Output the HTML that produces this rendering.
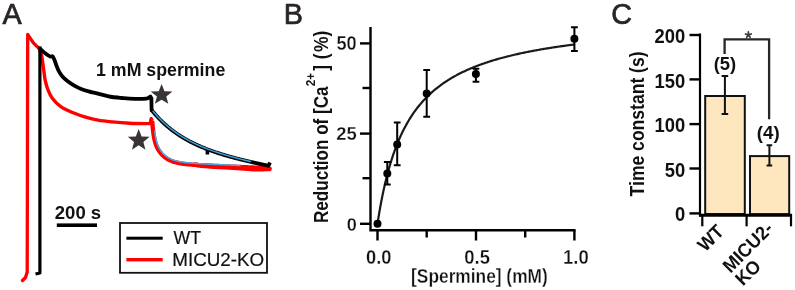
<!DOCTYPE html>
<html><head><meta charset="utf-8"><style>
html,body{margin:0;padding:0;background:#fff;}
svg{display:block;}
text{font-family:"Liberation Sans",sans-serif;}
svg{will-change:transform;}
</style></head><body>
<svg width="795" height="290" viewBox="0 0 795 290">
<rect width="795" height="290" fill="#fff"/>
<text transform="translate(2.58,24.00) scale(0.950,1)" font-size="30.30" fill="#2a2524" stroke="#2a2524" stroke-width="0.70" stroke-linejoin="round">A</text>

<path d="M22.5,280.5 L25.5,277.5 L27.2,272 L27.7,34.5" fill="none" stroke="#ff0000" stroke-width="3.3" stroke-linejoin="round" stroke-linecap="round"/>
<path d="M27.70,34.50 C28.75,36.00 32.08,41.13 34.00,43.50 C35.92,45.87 37.95,46.78 39.20,48.70 C40.45,50.62 40.92,52.70 41.50,55.00 C42.08,57.30 42.28,59.67 42.70,62.50 C43.12,65.33 43.58,69.03 44.00,72.00 C44.42,74.97 44.48,77.18 45.20,80.30 C45.92,83.42 47.08,87.67 48.30,90.70 C49.52,93.73 50.42,95.83 52.50,98.50 C54.58,101.17 57.35,104.32 60.80,106.70 C64.25,109.08 69.07,111.05 73.20,112.80 C77.33,114.55 81.47,115.97 85.60,117.20 C89.73,118.43 93.57,119.42 98.00,120.20 C102.43,120.98 106.95,121.40 112.20,121.90 C117.45,122.40 123.75,122.92 129.50,123.20 C135.25,123.48 143.23,123.57 146.70,123.60 C150.17,123.63 149.70,123.43 150.30,123.40 L151.2,118.6 L152.2,121" fill="none" stroke="#ff0000" stroke-width="3.4" stroke-linejoin="round"/>
<path d="M152.20,120.99 L152.35,122.98 L152.50,124.81 L152.65,126.49 L152.80,128.03 L152.95,129.46 L153.10,130.78 L153.25,132.00 L153.40,133.13 L153.55,134.18 L153.70,135.16 L153.85,136.07 L154.00,136.93 L154.15,137.73 L154.30,138.48 L154.45,139.18 L154.60,139.84 L154.75,140.47 L154.90,141.07 L155.05,141.63 L155.20,142.16 L155.35,142.67 L155.50,143.15 L155.65,143.62 L155.80,144.06 L155.95,144.49 L156.10,144.89 L156.25,145.29 L156.40,145.66 L156.55,146.03 L156.70,146.38 L156.85,146.72 L157.00,147.05 L157.15,147.37 L157.30,147.68 L157.45,147.98 L157.60,148.28 L157.75,148.56 L157.90,148.84 L158.05,149.11 L158.20,149.37 L158.35,149.63 L158.50,149.89 L158.65,150.13 L158.80,150.37 L158.95,150.61 L159.10,150.84 L159.25,151.07 L159.40,151.29 L159.55,151.50 L159.70,151.72 L159.85,151.93 L160.00,152.13 L160.70,153.04 L161.40,153.87 L162.10,154.64 L162.80,155.35 L163.50,156.01 L164.20,156.62 L164.90,157.19 L165.60,157.72 L166.30,158.21 L167.00,158.66 L167.70,159.08 L168.40,159.48 L169.10,159.84 L169.80,160.18 L170.50,160.50 L171.20,160.80 L171.90,161.07 L172.60,161.33 L173.30,161.57 L174.00,161.80 L174.70,162.01 L175.40,162.20 L176.10,162.39 L176.80,162.56 L177.50,162.72 L178.20,162.87 L178.90,163.02 L179.60,163.15 L180.30,163.28 L181.00,163.40 L181.70,163.51 L182.40,163.62 L183.10,163.72 L183.80,163.81 L184.50,163.90 L185.20,163.99 L185.90,164.07 L186.60,164.15 L187.30,164.22 L188.00,164.29 L188.70,164.36 L189.40,164.42 L190.10,164.49 L190.80,164.55 L191.50,164.60 L192.20,164.66 L192.90,164.71 L193.60,164.77 L194.30,164.82 L195.00,164.86 L195.70,164.91 L196.40,164.96 L197.10,165.00 L197.80,165.05 L198.50,165.09 L199.20,165.13 L199.90,165.17 L200.60,165.21 L201.30,165.25 L202.00,165.29 L202.70,165.33 L203.40,165.36 L204.10,165.40 L204.80,165.44 L205.50,165.47 L206.20,165.51 L206.90,165.54 L207.60,165.57 L208.30,165.61 L209.00,165.64 L209.70,165.68 L210.40,165.71 L211.10,165.74 L211.80,165.77 L212.50,165.81 L213.20,165.84 L213.90,165.87 L214.60,165.90 L215.30,165.93 L216.00,165.97 L216.70,166.00 L217.40,166.03 L218.10,166.06 L218.80,166.09 L219.50,166.12 L220.20,166.15 L220.90,166.18 L221.60,166.21 L222.30,166.24 L223.00,166.28 L223.70,166.31 L224.40,166.34 L225.10,166.37 L225.80,166.40 L226.50,166.43 L227.20,166.46 L227.90,166.49 L228.60,166.52 L229.30,166.55 L230.00,166.58 L230.70,166.61 L231.40,166.64 L232.10,166.67 L232.80,166.70 L233.50,166.73 L234.20,166.76 L234.90,166.79 L235.60,166.82 L236.30,166.85 L237.00,166.88 L237.70,166.91 L238.40,166.94 L239.10,166.97 L239.80,167.00 L240.50,167.03 L241.20,167.06 L241.90,167.09 L242.60,167.12 L243.30,167.15 L244.00,167.18 L244.70,167.20 L245.40,167.23 L246.10,167.26 L246.80,167.29 L247.50,167.32 L248.20,167.35 L248.90,167.38 L249.60,167.41 L250.30,167.44 L251.00,167.47 L251.70,167.50 L252.40,167.53 L253.10,167.56 L253.80,167.59 L254.50,167.62 L255.20,167.65 L255.90,167.68 L256.60,167.71 L257.30,167.74 L258.00,167.77 L258.70,167.80 L259.40,167.83 L260.10,167.86 L260.80,167.89 L261.50,167.92 L262.20,167.95 L262.90,167.98 L263.60,168.01 L264.30,168.04 L265.00,168.07 L265.70,168.10 L266.40,168.13 L267.10,168.16 L267.80,168.19 L268.50,168.22 L269.20,168.24 L269.50,168.26" fill="none" stroke="#ff0000" stroke-width="4.4" stroke-linejoin="round"/>
<path d="M195.00,164.60 C196.07,164.75 197.23,165.13 201.40,165.50 C205.57,165.87 213.40,166.38 220.00,166.80 C226.60,167.22 234.93,167.60 241.00,168.00 C247.07,168.40 251.65,169.07 256.40,169.20 C261.15,169.33 267.32,168.87 269.50,168.80" fill="none" stroke="#ff0000" stroke-width="4.8" stroke-linecap="round"/>
<path d="M154.59,130.60 L154.74,131.81 L154.89,132.93 L155.03,133.96 L155.18,134.93 L155.33,135.82 L155.48,136.66 L155.62,137.44 L155.77,138.17 L155.92,138.86 L156.06,139.51 L156.21,140.11 L156.35,140.69 L156.50,141.23 L156.64,141.75 L156.79,142.24 L156.93,142.70 L157.07,143.15 L157.22,143.57 L157.36,143.98 L157.50,144.37 L157.65,144.74 L157.79,145.10 L157.93,145.45 L158.08,145.78 L158.22,146.11 L158.36,146.42 L158.50,146.73 L158.65,147.02 L158.79,147.31 L158.93,147.59 L159.07,147.86 L159.22,148.12 L159.36,148.38 L159.50,148.63 L159.64,148.87 L159.79,149.11 L159.93,149.35 L160.07,149.57 L160.21,149.80 L160.35,150.02 L160.50,150.23 L160.64,150.44 L160.78,150.65 L160.92,150.85 L161.06,151.05 L161.19,151.22 L161.87,152.10 L162.53,152.89 L163.19,153.61 L163.85,154.28 L164.51,154.90 L165.17,155.48 L165.82,156.01 L166.48,156.50 L167.14,156.96 L167.80,157.39 L168.46,157.79 L169.11,158.16 L169.78,158.50 L170.44,158.83 L171.10,159.13 L171.77,159.41 L172.43,159.67 L173.10,159.92 L173.77,160.15 L174.44,160.36 L175.12,160.57 L175.79,160.76 L176.47,160.93 L177.15,161.10 L177.83,161.26 L178.51,161.41 L179.19,161.54 L179.87,161.68 L180.56,161.80 L181.25,161.92 L181.93,162.03 L182.62,162.13 L183.31,162.23 L184.00,162.32 L184.69,162.41 L185.38,162.50 L186.07,162.58 L186.76,162.66 L187.45,162.73 L188.15,162.80 L188.84,162.87 L189.54,162.93 L190.23,162.99 L190.93,163.05 L191.62,163.11 L192.32,163.16 L193.01,163.22 L193.71,163.27 L194.41,163.32 L195.10,163.37 L195.80,163.41 L196.50,163.46 L197.19,163.50 L197.89,163.55 L198.59,163.59 L199.29,163.63 L199.99,163.67 L200.68,163.71 L201.38,163.75 L202.08,163.79 L202.78,163.83 L203.48,163.86 L204.18,163.90 L204.88,163.94 L205.58,163.97 L206.27,164.01 L206.97,164.04 L207.67,164.08 L208.37,164.11 L209.07,164.14 L209.77,164.18 L210.47,164.21 L211.17,164.24 L211.87,164.28 L212.57,164.31 L213.27,164.34 L213.97,164.37 L214.67,164.40 L215.37,164.44 L216.07,164.47 L216.77,164.50 L217.47,164.53 L218.17,164.56 L218.87,164.59 L219.57,164.62 L220.27,164.65 L220.97,164.68 L221.67,164.72 L222.37,164.75 L223.07,164.78 L223.77,164.81 L224.47,164.84 L225.16,164.87 L225.86,164.90 L226.56,164.93 L227.26,164.96 L227.96,164.99 L228.66,165.02 L229.36,165.05 L230.06,165.08 L230.76,165.11 L231.46,165.14 L232.16,165.17 L232.86,165.20 L233.56,165.23 L234.26,165.26 L234.96,165.29 L235.66,165.32 L236.36,165.35 L237.06,165.38 L237.76,165.41 L238.46,165.44 L239.16,165.47 L239.86,165.50 L240.56,165.53 L240.54,165.53" fill="none" stroke="#4aa8e0" stroke-width="1.5"/>
<path d="M35.5,274 L39.9,273 L39.9,46.6" fill="none" stroke="#000" stroke-width="3.2" stroke-linejoin="round"/>
<path d="M38.4,46.8 L41.4,46.8 L41.6,51 Z" fill="#000"/>
<path d="M41.30,49.80 C41.75,50.23 42.97,51.55 44.00,52.40 C45.03,53.25 46.42,54.20 47.50,54.90 C48.58,55.60 49.68,56.38 50.50,56.60 C51.32,56.82 51.88,55.97 52.40,56.20 C52.92,56.43 53.17,57.15 53.60,58.00 C54.03,58.85 54.52,60.00 55.00,61.30 C55.48,62.60 55.87,64.15 56.50,65.80 C57.13,67.45 57.85,69.47 58.80,71.20 C59.75,72.93 60.77,74.57 62.20,76.20 C63.63,77.83 65.38,79.43 67.40,81.00 C69.42,82.57 72.00,84.28 74.30,85.60 C76.60,86.92 78.67,87.90 81.20,88.90 C83.73,89.90 87.20,90.93 89.50,91.60 C91.80,92.27 92.13,92.20 95.00,92.90 C97.87,93.60 103.83,95.12 106.70,95.80 C109.57,96.48 109.65,96.63 112.20,97.00 C114.75,97.37 119.12,97.73 122.00,98.00 C124.88,98.27 126.50,98.45 129.50,98.60 C132.50,98.75 137.00,98.93 140.00,98.90 C143.00,98.87 146.25,98.48 147.50,98.40 L150.4,96.6 L151.4,98.5 L151.6,110.3" fill="none" stroke="#000" stroke-width="3.8" stroke-linejoin="round" stroke-linecap="round"/>
<path d="M151.8,110.3 151.80,110.22 L152.50,111.09 L153.20,111.94 L153.90,112.78 L154.60,113.60 L155.30,114.41 L156.00,115.21 L156.70,115.99 L157.40,116.76 L158.10,117.51 L158.80,118.25 L159.50,118.98 L160.20,119.70 L160.90,120.40 L161.60,121.10 L162.30,121.78 L163.00,122.45 L163.70,123.10 L164.40,123.75 L165.10,124.39 L165.80,125.01 L166.50,125.63 L167.20,126.24 L167.90,126.83 L168.60,127.42 L169.30,127.99 L170.00,128.56 L170.70,129.12 L171.40,129.67 L172.10,130.21 L172.80,130.74 L173.50,131.26 L174.20,131.78 L174.90,132.29 L175.60,132.78 L176.30,133.28 L177.00,133.76 L177.70,134.24 L178.40,134.71 L179.10,135.17 L179.80,135.62 L180.50,136.07 L181.20,136.51 L181.90,136.95 L182.60,137.38 L183.30,137.80 L184.00,138.22 L184.70,138.63 L185.40,139.03 L186.10,139.43 L186.80,139.82 L187.50,140.21 L188.20,140.59 L188.90,140.97 L189.60,141.34 L190.30,141.70 L191.00,142.06 L191.70,142.42 L192.40,142.77 L193.10,143.12 L193.80,143.46 L194.50,143.80 L195.20,144.13 L195.90,144.46 L196.60,144.78 L197.30,145.10 L198.00,145.42 L198.70,145.73 L199.40,146.04 L200.10,146.35 L200.80,146.65 L201.50,146.94 L202.20,147.24 L202.90,147.53 L203.60,147.81 L204.30,148.10 L205.00,148.38 L205.70,148.65 L206.40,148.93 L207.10,149.20 L207.80,149.46 L208.50,149.73 L209.20,149.99 L209.90,150.25 L210.60,150.50 L211.30,150.75 L212.00,151.00 L212.70,151.25 L213.40,151.50 L214.10,151.74 L214.80,151.98 L215.50,152.21 L216.20,152.45 L216.90,152.68 L217.60,152.91 L218.30,153.14 L219.00,153.37 L219.70,153.59 L220.40,153.81 L221.10,154.03 L221.80,154.25 L222.50,154.46 L223.20,154.68 L223.90,154.89 L224.60,155.10 L225.30,155.30 L226.00,155.51 L226.70,155.72 L227.40,155.92 L228.10,156.12 L228.80,156.32 L229.50,156.52 L230.20,156.71 L230.90,156.91 L231.60,157.10 L232.30,157.29 L233.00,157.48 L233.70,157.67 L234.40,157.86 L235.10,158.04 L235.80,158.23 L236.50,158.41 L237.20,158.59 L237.90,158.77 L238.60,158.95 L239.30,159.13 L240.00,159.31 L240.70,159.48 L241.40,159.66 L242.10,159.83 L242.80,160.00 L243.50,160.17 L244.20,160.34 L244.90,160.51 L245.60,160.68 L246.30,160.85 L247.00,161.02 L247.70,161.18 L248.40,161.35 L249.10,161.51 L249.80,161.67 L250.50,161.83 L251.20,161.99 L251.90,162.15 L252.60,162.31 L253.30,162.47 L254.00,162.63 L254.70,162.79 L255.40,162.94 L256.10,163.10 L256.80,163.25 L257.50,163.41 L258.20,163.56 L258.90,163.71 L259.60,163.87 L260.30,164.02 L261.00,164.17 L261.70,164.32 L262.40,164.47 L263.10,164.62 L263.80,164.76 L264.50,164.91 L265.20,165.06 L265.90,165.20 L266.60,165.35 L267.30,165.50 L268.00,165.64 L268.50,165.74 L270,162.5" fill="none" stroke="#000" stroke-width="3.8" stroke-linejoin="round"/>
<rect x="205.6" y="150.5" width="3.6" height="4" fill="#000"/>
<path d="M152.67,110.75 L153.37,111.60 L154.07,112.44 L154.77,113.26 L155.46,114.07 L156.16,114.86 L156.86,115.64 L157.56,116.41 L158.26,117.17 L158.95,117.91 L159.65,118.64 L160.35,119.35 L161.05,120.06 L161.75,120.75 L162.44,121.43 L163.14,122.10 L163.84,122.76 L164.54,123.40 L165.23,124.04 L165.93,124.66 L166.63,125.28 L167.33,125.88 L168.03,126.48 L168.72,127.06 L169.42,127.64 L170.12,128.21 L170.82,128.77 L171.52,129.31 L172.21,129.85 L172.91,130.39 L173.61,130.91 L174.31,131.42 L175.00,131.93 L175.70,132.43 L176.40,132.92 L177.10,133.40 L177.80,133.88 L178.49,134.35 L179.19,134.81 L179.89,135.26 L180.59,135.71 L181.29,136.15 L181.98,136.59 L182.68,137.02 L183.38,137.44 L184.08,137.86 L184.78,138.26 L185.47,138.67 L186.17,139.07 L186.87,139.46 L187.57,139.85 L188.27,140.23 L188.97,140.60 L189.66,140.98 L190.36,141.34 L191.06,141.70 L191.76,142.06 L192.46,142.41 L193.15,142.76 L193.85,143.10 L194.55,143.43 L195.25,143.77 L195.95,144.10 L196.65,144.42 L197.35,144.74 L198.04,145.06 L198.74,145.37 L199.44,145.68 L200.14,145.98 L200.84,146.28 L201.54,146.58 L202.23,146.87 L202.93,147.16 L203.63,147.45 L204.33,147.73 L205.03,148.01 L205.73,148.29 L206.43,148.56 L207.13,148.83 L207.82,149.10 L208.52,149.36 L209.22,149.62 L209.92,149.88 L210.62,150.14 L211.32,150.39 L212.02,150.64 L212.72,150.89 L213.42,151.13 L214.11,151.37 L214.81,151.61 L215.51,151.85 L216.21,152.08 L216.91,152.32 L217.61,152.55 L218.31,152.77 L219.01,153.00 L219.71,153.22 L220.41,153.45 L221.10,153.66 L221.80,153.88 L222.50,154.10 L223.20,154.31 L223.90,154.52 L224.60,154.73 L225.30,154.94 L226.00,155.15 L226.70,155.35 L227.40,155.55 L228.10,155.75 L228.80,155.95 L229.49,156.15 L230.19,156.35 L230.89,156.54 L231.59,156.73 L232.29,156.93 L232.99,157.12 L233.69,157.30 L234.39,157.49 L235.09,157.68 L235.79,157.86 L236.49,158.04 L237.19,158.23 L237.89,158.41 L238.59,158.59 L239.29,158.76 L239.99,158.94 L240.69,159.12 L241.38,159.29 L242.08,159.47 L242.78,159.64 L243.48,159.81 L244.18,159.98 L244.88,160.15 L245.58,160.32 L246.28,160.49 L246.98,160.65 L247.68,160.82 L248.38,160.98 L249.08,161.15 L249.78,161.31 L250.48,161.47 L251.08,161.61" fill="none" stroke="#3aa0dc" stroke-width="1.5"/>
<path d="M161.60,83.60 L164.48,91.04 L172.44,91.48 L166.26,96.51 L168.30,104.22 L161.60,99.90 L154.90,104.22 L156.94,96.51 L150.76,91.48 L158.72,91.04Z" fill="#3b3434" transform="translate(0,3.80) scale(1,0.96)"/>
<path d="M138.70,128.90 L141.58,136.44 L149.64,136.85 L143.36,141.91 L145.46,149.70 L138.70,145.30 L131.94,149.70 L134.04,141.91 L127.76,136.85 L135.82,136.44Z" fill="#3b3434"/>
<rect x="56.8" y="223.4" width="40.2" height="3.6" fill="#000"/>
<rect x="120" y="223" width="147" height="49.8" fill="none" stroke="#111" stroke-width="1.8"/>
<rect x="126.4" y="236.7" width="36.3" height="3" fill="#000"/>
<rect x="126.4" y="258.0" width="36.3" height="3.4" fill="#ff0000"/>
<text transform="translate(96.04,75.67) scale(0.925,1)" font-size="19.20" font-weight="bold" fill="#111">1 mM spermine</text>
<text transform="translate(54.80,219.16) scale(0.979,1)" font-size="18.94" font-weight="bold" fill="#111">200 s</text>
<text transform="translate(173.56,244.15) scale(1.013,1)" font-size="17.45" fill="#111" stroke="#111" stroke-width="0.20" stroke-linejoin="round">WT</text>
<text transform="translate(172.30,265.66) scale(0.986,1)" font-size="19.08" fill="#111" stroke="#111" stroke-width="0.20" stroke-linejoin="round">MICU2-KO</text>

<text transform="translate(283.78,24.00) scale(0.950,1)" font-size="30.30" fill="#2a2524" stroke="#2a2524" stroke-width="0.70" stroke-linejoin="round">B</text>

<path d="M370.5,27 L370.5,230.3 L575.5,230.3" fill="none" stroke="#000" stroke-width="2.4"/>
<rect x="360" y="222.6" width="10.5" height="2.4" fill="#000"/>
<rect x="360" y="132.4" width="10.5" height="2.4" fill="#000"/>
<rect x="360" y="42.2" width="10.5" height="2.4" fill="#000"/>
<rect x="362.5" y="177.0" width="8" height="2.4" fill="#000"/>
<rect x="362.5" y="86.8" width="8" height="2.4" fill="#000"/>
<rect x="376.3" y="230" width="2.4" height="10.5" fill="#000"/>
<rect x="474.8" y="230" width="2.4" height="10.5" fill="#000"/>
<rect x="573.2" y="230" width="2.4" height="10.5" fill="#000"/>
<rect x="425.5" y="230" width="2.4" height="7.5" fill="#000"/>
<rect x="524.0" y="230" width="2.4" height="7.5" fill="#000"/>
<path d="M377.50,223.80 L378.48,217.53 L379.47,211.63 L380.45,206.06 L381.44,200.80 L382.42,195.82 L383.41,191.10 L384.39,186.62 L385.38,182.37 L386.36,178.32 L387.35,174.47 L388.33,170.79 L389.31,167.28 L390.30,163.92 L391.28,160.71 L392.27,157.64 L393.25,154.69 L394.24,151.87 L395.22,149.15 L396.21,146.55 L397.19,144.04 L398.17,141.62 L399.16,139.30 L400.14,137.06 L401.13,134.90 L402.11,132.81 L403.10,130.80 L404.08,128.85 L405.07,126.97 L406.05,125.15 L407.04,123.39 L408.02,121.69 L409.00,120.03 L409.99,118.43 L410.97,116.88 L411.96,115.37 L412.94,113.91 L413.93,112.49 L414.91,111.11 L415.90,109.77 L416.88,108.46 L417.86,107.20 L418.85,105.96 L419.83,104.76 L420.82,103.59 L421.80,102.45 L422.79,101.34 L423.77,100.26 L424.76,99.20 L425.74,98.17 L426.73,97.17 L427.71,96.19 L428.69,95.23 L429.68,94.30 L430.66,93.38 L431.65,92.49 L432.63,91.62 L433.62,90.77 L434.60,89.94 L435.59,89.12 L436.57,88.32 L437.55,87.54 L438.54,86.78 L439.52,86.03 L440.51,85.30 L441.49,84.58 L442.48,83.88 L443.46,83.19 L444.45,82.52 L445.43,81.86 L446.41,81.21 L447.40,80.57 L448.38,79.95 L449.37,79.34 L450.35,78.74 L451.34,78.15 L452.32,77.57 L453.31,77.01 L454.29,76.45 L455.28,75.90 L456.26,75.36 L457.24,74.84 L458.23,74.32 L459.21,73.81 L460.20,73.31 L461.18,72.82 L462.17,72.33 L463.15,71.86 L464.14,71.39 L465.12,70.93 L466.11,70.47 L467.09,70.03 L468.07,69.59 L469.06,69.16 L470.04,68.74 L471.03,68.32 L472.01,67.91 L473.00,67.50 L473.98,67.10 L474.97,66.71 L475.95,66.33 L476.93,65.94 L477.92,65.57 L478.90,65.20 L479.89,64.84 L480.87,64.48 L481.86,64.12 L482.84,63.78 L483.83,63.43 L484.81,63.09 L485.80,62.76 L486.78,62.43 L487.76,62.11 L488.75,61.79 L489.73,61.47 L490.72,61.16 L491.70,60.85 L492.69,60.55 L493.67,60.25 L494.66,59.95 L495.64,59.66 L496.62,59.37 L497.61,59.09 L498.59,58.81 L499.58,58.53 L500.56,58.26 L501.55,57.99 L502.53,57.73 L503.52,57.46 L504.50,57.20 L505.49,56.95 L506.47,56.69 L507.45,56.44 L508.44,56.20 L509.42,55.95 L510.41,55.71 L511.39,55.47 L512.38,55.24 L513.36,55.00 L514.35,54.77 L515.33,54.55 L516.31,54.32 L517.30,54.10 L518.28,53.88 L519.27,53.66 L520.25,53.45 L521.24,53.24 L522.22,53.03 L523.21,52.82 L524.19,52.61 L525.17,52.41 L526.16,52.21 L527.14,52.01 L528.13,51.81 L529.11,51.62 L530.10,51.43 L531.08,51.24 L532.07,51.05 L533.05,50.86 L534.04,50.68 L535.02,50.50 L536.00,50.32 L536.99,50.14 L537.97,49.96 L538.96,49.78 L539.94,49.61 L540.93,49.44 L541.91,49.27 L542.90,49.10 L543.88,48.94 L544.87,48.77 L545.85,48.61 L546.83,48.45 L547.82,48.29 L548.80,48.13 L549.79,47.97 L550.77,47.82 L551.76,47.66 L552.74,47.51 L553.73,47.36 L554.71,47.21 L555.69,47.06 L556.68,46.91 L557.66,46.77 L558.65,46.62 L559.63,46.48 L560.62,46.34 L561.60,46.20 L562.59,46.06 L563.57,45.92 L564.56,45.79 L565.54,45.65 L566.52,45.52 L567.51,45.39 L568.49,45.25 L569.48,45.12 L570.46,44.99 L571.45,44.87 L572.43,44.74 L573.42,44.61 L574.40,44.49" fill="none" stroke="#1a1a1a" stroke-width="2.2"/>
<circle cx="377.5" cy="223.8" r="4" fill="#000"/>
<path d="M387.3,162.1 L387.3,184.5 M383.9,162.1 L390.7,162.1 M383.9,184.5 L390.7,184.5" stroke="#000" stroke-width="2" fill="none"/>
<circle cx="387.3" cy="173.6" r="4" fill="#000"/>
<path d="M397.2,122.5 L397.2,165.3 M393.8,122.5 L400.6,122.5 M393.8,165.3 L400.6,165.3" stroke="#000" stroke-width="2" fill="none"/>
<circle cx="397.2" cy="144.4" r="4" fill="#000"/>
<path d="M426.7,69.9 L426.7,116.8 M423.3,69.9 L430.1,69.9 M423.3,116.8 L430.1,116.8" stroke="#000" stroke-width="2" fill="none"/>
<circle cx="426.7" cy="93.6" r="4" fill="#000"/>
<path d="M475.9,68.7 L475.9,81.7 M472.6,68.7 L479.3,68.7 M472.6,81.7 L479.3,81.7" stroke="#000" stroke-width="2" fill="none"/>
<circle cx="475.9" cy="74.1" r="4" fill="#000"/>
<path d="M574.4,27.2 L574.4,50.9 M571.0,27.2 L577.8,27.2 M571.0,50.9 L577.8,50.9" stroke="#000" stroke-width="2" fill="none"/>
<circle cx="574.4" cy="38.7" r="4" fill="#000"/>
<text transform="translate(336.40,50.15) scale(0.925,1)" font-size="19.65" font-weight="bold" fill="#111" stroke="#fff" stroke-width="0.3">50</text>
<text transform="translate(336.21,140.36) scale(0.995,1)" font-size="18.52" font-weight="bold" fill="#111" stroke="#fff" stroke-width="0.3">25</text>
<text transform="translate(346.73,230.96) scale(0.942,1)" font-size="19.22" font-weight="bold" fill="#111" stroke="#fff" stroke-width="0.3">0</text>
<text transform="translate(366.02,264.05) scale(0.939,1)" font-size="19.51" font-weight="bold" fill="#111" stroke="#fff" stroke-width="0.3">0.0</text>
<text transform="translate(464.31,264.15) scale(0.926,1)" font-size="19.93" font-weight="bold" fill="#111" stroke="#fff" stroke-width="0.3">0.5</text>
<text transform="translate(563.09,264.15) scale(0.928,1)" font-size="19.93" font-weight="bold" fill="#111" stroke="#fff" stroke-width="0.3">1.0</text>
<text transform="translate(411.10,283.38) scale(0.883,1)" font-size="19.62" font-weight="bold" fill="#111" stroke="#fff" stroke-width="0.3">[Spermine] (mM)</text>
<text transform="translate(328.30,223.05) rotate(-90) scale(0.885,1)" font-size="19.30" font-weight="bold" fill="#111">Reduction of [Ca</text>
<text transform="translate(314.50,86.21) rotate(-90) scale(0.900,1)" font-size="13.00" font-weight="bold" fill="#111">2+</text>
<text transform="translate(328.30,70.72) rotate(-90) scale(0.900,1)" font-size="19.30" font-weight="bold" fill="#111">]</text>
<text transform="translate(328.30,59.37) rotate(-90) scale(0.900,1)" font-size="19.30" font-weight="bold" fill="#111">(</text>
<text transform="translate(328.30,52.03) rotate(-90) scale(0.900,1)" font-size="19.30" font-weight="bold" fill="#111">%</text>
<text transform="translate(328.30,36.41) rotate(-90) scale(0.900,1)" font-size="19.30" font-weight="bold" fill="#111">)</text>

<text transform="translate(611.31,24.00) scale(0.950,1)" font-size="30.30" fill="#2a2524" stroke="#2a2524" stroke-width="0.70" stroke-linejoin="round">C</text>

<text transform="translate(644.2,196.4) rotate(-90) scale(0.91,1)" font-size="19.3" font-weight="bold" fill="#111">Time constant (s)</text>
<rect x="705.2" y="96.0" width="39.6" height="118" fill="#fee7bf" stroke="#111" stroke-width="2"/>
<rect x="750" y="156.1" width="39.2" height="58" fill="#fee7bf" stroke="#111" stroke-width="2"/>
<path d="M700,33.5 L700,216.5" stroke="#000" stroke-width="2.2"/>
<path d="M699,215.3 L792,215.3" stroke="#000" stroke-width="3"/>
<rect x="689.5" y="33.8" width="11" height="2.4" fill="#000"/>
<rect x="689.5" y="78.2" width="11" height="2.4" fill="#000"/>
<rect x="689.5" y="122.9" width="11" height="2.4" fill="#000"/>
<rect x="689.5" y="167.3" width="11" height="2.4" fill="#000"/>
<rect x="689.5" y="212.2" width="11" height="2.4" fill="#000"/>
<rect x="701.2" y="214" width="2.2" height="12.3" fill="#000"/>
<rect x="745.5" y="214" width="2.2" height="12.3" fill="#000"/>
<rect x="789.9" y="214" width="2.2" height="12.3" fill="#000"/>

<path d="M724.9,76 L724.9,113.9 M721.6,76 L728.2,76 M721.6,113.9 L728.2,113.9" stroke="#111" stroke-width="2" fill="none"/>
<path d="M769.4,145.3 L769.4,165.5 M766.6,145.3 L772.2,145.3 M766.6,165.5 L772.2,165.5" stroke="#111" stroke-width="2" fill="none"/>
<path d="M724.6,54 L724.6,39.4 L769.1,39.4 L769.1,119.3" stroke="#2b2424" stroke-width="2.3" fill="none"/>
<path d="M748.40,34.90 L748.40,31.90 M748.40,34.90 L751.25,33.97 M748.40,34.90 L750.16,37.33 M748.40,34.90 L746.64,37.33 M748.40,34.90 L745.55,33.97 " stroke="#3a3a3a" stroke-width="1.7" stroke-linecap="round" fill="none"/>
<text transform="translate(654.45,42.80) scale(0.920,1)" font-size="20.00" font-weight="bold" fill="#111">200</text>
<text transform="translate(654.45,87.50) scale(0.920,1)" font-size="20.00" font-weight="bold" fill="#111">150</text>
<text transform="translate(654.45,132.30) scale(0.920,1)" font-size="20.00" font-weight="bold" fill="#111">100</text>
<text transform="translate(664.71,176.50) scale(0.920,1)" font-size="20.00" font-weight="bold" fill="#111">50</text>
<text transform="translate(674.92,220.90) scale(0.920,1)" font-size="20.00" font-weight="bold" fill="#111">0</text>
<text transform="translate(713.63,70.47) scale(0.961,1)" font-size="19.20" font-weight="bold" fill="#111">(5)</text>
<text transform="translate(756.81,139.21) scale(0.986,1)" font-size="18.98" font-weight="bold" fill="#111">(4)</text>
<g font-size="19" font-weight="bold" fill="#111">
<text transform="translate(705.2,252.6) rotate(-45) scale(0.95,1)">WT</text>
<text transform="translate(730.4,273.7) rotate(-45) scale(0.95,1)">MICU2-</text>
<text transform="translate(743.1,286.6) rotate(-45) scale(0.95,1)">KO</text>
</g>

</svg>
</body></html>
